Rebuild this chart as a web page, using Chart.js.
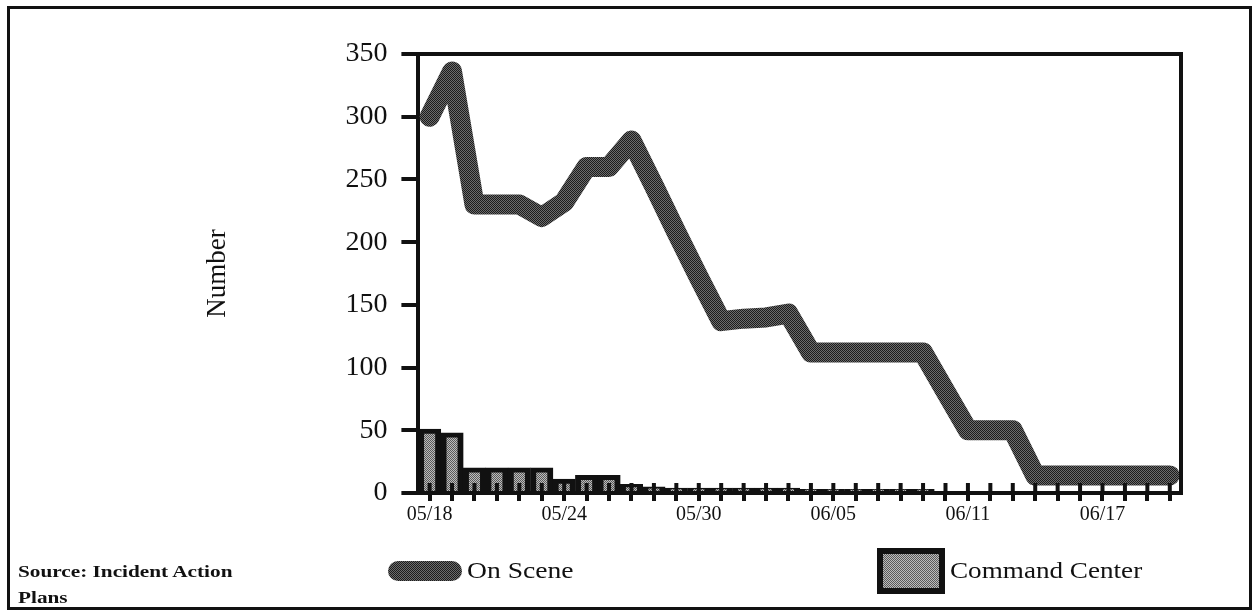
<!DOCTYPE html>
<html><head><meta charset="utf-8">
<script src="https://cdn.jsdelivr.net/npm/chart.js@4"></script>
<style>
html,body{margin:0;padding:0;background:#fff;}
#wrap{position:relative;width:1254px;height:614px;overflow:hidden;background:#fff;}
#c{position:absolute;left:0;top:0;}
#frame{position:absolute;left:7px;top:6px;width:1245px;height:604px;border:3px solid #111;box-sizing:border-box;}
.txt{position:absolute;font-family:"Liberation Serif","Times New Roman",serif;color:#111;white-space:nowrap;transform-origin:left center;line-height:1;}
.lineSym{position:absolute;border-radius:10px;background:repeating-conic-gradient(#1c1c1c 0 25%,#6c6c6c 0 50%);background-size:2px 2px;}
.boxSym{position:absolute;box-sizing:border-box;border:6px solid #111;background:repeating-conic-gradient(#5a5a5a 0 25%,#bcbcbc 0 50%);background-size:2px 2px;}
</style></head><body>
<div id="wrap">
<canvas id="c" width="1254" height="614"></canvas>
<div id="frame"></div>
<div id="legend"></div>
<div class="txt" style="left:18px;top:563px;font-size:17px;font-weight:bold;transform:scaleX(1.25)">Source: Incident Action</div>
<div class="txt" style="left:18px;top:589px;font-size:17px;font-weight:bold;transform:scaleX(1.25)">Plans</div>
</div>
<script>
const dates = ["05/18","05/19","05/20","05/21","05/22","05/23","05/24","05/25","05/26","05/27","05/28","05/29","05/30","05/31",
  "06/01","06/02","06/03","06/04","06/05","06/06","06/07","06/08","06/09","06/10","06/11","06/12","06/13","06/14","06/15","06/16","06/17","06/18","06/19","06/20"];
const onScene = [300,336,230,230,230,220,232,260,260,281,245,208,172,137,139,140,143,112,112,112,112,112,112,81,50,50,50,14,14,14,14,14,14,14];
const commandCenter = [51,48,20,20,20,20,11,14,14,7,5,4,4,4,4,4,4,3,3,3,3,3,3,0,0,0,0,0,0,0,0,0,0,0];
const yTicks = [0,50,100,150,200,250,300,350];
const seriesNames = ["On Scene","Command Center"];
const labelEvery = 6;

const SERIF = '"Liberation Serif","Times New Roman",serif';
const INK = '#111';

function checker(a, b) {
  const cv = document.createElement('canvas');
  cv.width = 2; cv.height = 2;
  const g = cv.getContext('2d');
  g.fillStyle = b; g.fillRect(0,0,2,2);
  g.fillStyle = a; g.fillRect(0,0,1,1); g.fillRect(1,1,1,1);
  return g.createPattern(cv, 'repeat');
}
const ctx = document.getElementById('c').getContext('2d');

const framePlugin = {
  id: 'framePlugin',
  afterDraw(chart) {
    const {ctx, chartArea: a, scales} = chart;
    ctx.save();
    ctx.strokeStyle = INK;
    ctx.lineWidth = 4;
    ctx.lineCap = 'square';
    ctx.beginPath();
    ctx.moveTo(a.left, a.top);
    ctx.lineTo(a.right, a.top);
    ctx.lineTo(a.right, a.bottom);
    ctx.stroke();
    ctx.lineCap = 'butt';
    const xs = scales.x;
    xs.ticks.forEach((t, i) => {
      const px = xs.getPixelForTick(i);
      ctx.beginPath();
      ctx.moveTo(px, a.bottom);
      ctx.lineTo(px, a.bottom - 10);
      ctx.stroke();
    });
    ctx.restore();
  }
};

new Chart(ctx, {
  data: {
    labels: dates,
    datasets: [
      {
        type: 'line',
        label: seriesNames[0],
        data: onScene,
        borderColor: checker('#1c1c1c', '#6c6c6c'),
        backgroundColor: 'transparent',
        borderWidth: 20,
        borderJoinStyle: 'round',
        borderCapStyle: 'round',
        pointRadius: 0,
        tension: 0,
        clip: false,
        order: 0
      },
      {
        type: 'bar',
        label: seriesNames[1],
        data: commandCenter,
        backgroundColor: checker('#5a5a5a', '#bcbcbc'),
        borderColor: INK,
        borderWidth: {top: 5, left: 6, right: 6, bottom: 0},
        borderSkipped: 'bottom',
        barPercentage: 1,
        categoryPercentage: 1,
        order: 1
      }
    ]
  },
  options: {
    responsive: false,
    animation: false,
    events: [],
    layout: {padding: {left: 202, right: 73, top: 54, bottom: 85}},
    plugins: {legend: {display: false}, tooltip: {enabled: false}},
    scales: {
      x: {
        type: 'category',
        offset: true,
        grid: {display: true, drawOnChartArea: false, offset: false, tickLength: 8, lineWidth: 4, color: INK},
        border: {display: true, color: INK, width: 4},
        ticks: {
          autoSkip: false, maxRotation: 0, minRotation: 0, padding: 2, color: INK,
          font: {family: SERIF, size: 20},
          callback: (v, i) => (i % labelEvery === 0 ? dates[i] : '')
        }
      },
      y: {
        min: yTicks[0], max: yTicks[yTicks.length - 1],
        afterBuildTicks: (s) => { s.ticks = yTicks.map(v => ({value: v})); },
        grid: {display: true, drawOnChartArea: false, tickLength: 17, lineWidth: 4, color: INK},
        border: {display: true, color: INK, width: 4},
        ticks: {padding: 14, color: INK, font: {family: SERIF, size: 28}},
        title: {display: true, text: 'Number', color: INK, font: {family: SERIF, size: 27}, padding: {top: 0, bottom: 97}}
      }
    }
  },
  plugins: [framePlugin]
});

const lg = document.getElementById('legend');
lg.innerHTML =
  '<div class="lineSym" style="left:388px;top:561px;width:74px;height:20px"></div>' +
  '<div class="txt" style="left:467px;top:559px;font-size:23px;transform:scaleX(1.2)">' + seriesNames[0] + '</div>' +
  '<div class="boxSym" style="left:877px;top:548px;width:68px;height:46px"></div>' +
  '<div class="txt" style="left:950px;top:559px;font-size:23px;transform:scaleX(1.18)">' + seriesNames[1] + '</div>';
</script>
</body></html>
